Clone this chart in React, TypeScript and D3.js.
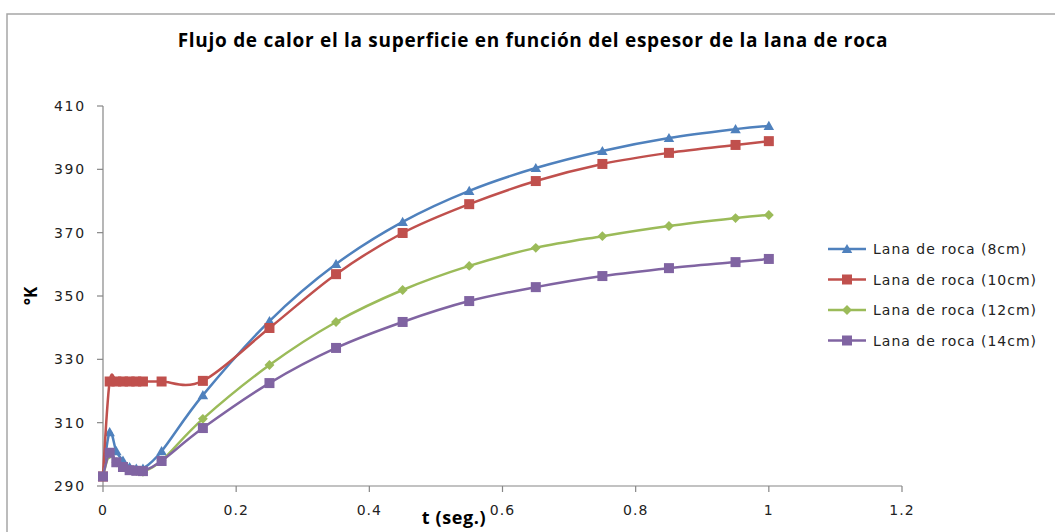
import React from "react";
import * as d3 from "d3";

// time samples (s) shared by all series
const tValues = [0, 0.01, 0.02, 0.03, 0.04, 0.05, 0.06, 0.088, 0.15, 0.25, 0.35, 0.45, 0.55, 0.65, 0.75, 0.85, 0.95, 1.0];

// surface temperature (°K) per wool thickness
const lana8cm = [293, 307, 301, 298, 296, 295.5, 295.5, 301, 318.7, 342.1, 360.1, 373.4, 383.2, 390.4, 395.8, 399.9, 402.7, 403.7];
const lana10cm = [293, 323, 323, 323, 323, 323, 323, 323, 323.2, 339.9, 356.9, 369.9, 379.0, 386.3, 391.7, 395.2, 397.7, 398.9];
const lana12cm = [293, 300, 297.5, 296, 295, 294.7, 294.5, 298, 311.2, 328.2, 341.8, 351.9, 359.5, 365.2, 368.9, 372.1, 374.6, 375.6];
const lana14cm = [293, 300.5, 297.5, 296, 295, 294.8, 294.7, 297.9, 308.3, 322.5, 333.6, 341.8, 348.4, 352.8, 356.3, 358.8, 360.7, 361.7];

const seriesNames = ["Lana de roca (8cm)", "Lana de roca (10cm)", "Lana de roca (12cm)", "Lana de roca (14cm)"];
const seriesColors = ["#4F81BD", "#C0504D", "#9BBB59", "#8064A2"];
const seriesMarkers = ["triangle", "square", "diamond", "square"];
const seriesValues = [lana8cm, lana10cm, lana12cm, lana14cm];

const xTicks = [0, 0.2, 0.4, 0.6, 0.8, 1, 1.2];
const yTicks = [290, 310, 330, 350, 370, 390, 410];

const titleText = "Flujo de calor el la superficie en función del espesor de la lana de roca";
const xAxisTitle = "t (seg.)";
const yAxisTitle = "°K";

const W = 1055;
const H = 532;

const x = d3.scaleLinear().domain([0, 1.2]).range([103, 902]);
const y = d3.scaleLinear().domain([290, 410]).range([486, 106]);

function Marker({ kind, cx, cy, color }: { kind: string; cx: number; cy: number; color: string }) {
  if (kind === "triangle") {
    const s = d3.symbol().type(d3.symbolTriangle).size(48)();
    return <path d={s || ""} transform={`translate(${cx},${cy + 1})`} fill={color} />;
  }
  if (kind === "diamond") {
    return (
      <rect x={-3.5} y={-3.5} width={7} height={7} fill={color} transform={`translate(${cx},${cy}) rotate(45)`} />
    );
  }
  return <rect x={cx - 5} y={cy - 5} width={10} height={10} fill={color} />;
}

export default function App() {
  const line = d3
    .line<number>()
    .x((_, i) => x(tValues[i]))
    .y((v) => y(v))
    .curve(d3.curveCardinal.tension(0));

  const axisColor = "#868686";
  const tickFont = "DejaVu Sans, Verdana, sans-serif";

  return (
    <svg
      width={W}
      height={H}
      style={{ position: "absolute", left: 0, top: 0, background: "#fff" }}
      xmlns="http://www.w3.org/2000/svg"
    >
      {/* chart frame */}
      <rect x={7} y={14} width={W + 20} height={H + 20} fill="#fff" stroke="#a6a6a6" strokeWidth={1.5} />

      <text
        x={533}
        y={47}
        textAnchor="middle"
        fontFamily="Open Sans, sans-serif"
        fontWeight={700}
        fontSize={19}
        letterSpacing={0.7}
        fill="#000"
      >
        {titleText}
      </text>

      {/* axes */}
      <line x1={x(0)} x2={x(1.2)} y1={y(290)} y2={y(290)} stroke={axisColor} strokeWidth={1.2} />
      <line x1={x(0)} x2={x(0)} y1={y(290)} y2={y(410)} stroke={axisColor} strokeWidth={1.2} />
      {xTicks.map((t) => (
        <g key={`xt${t}`}>
          <line x1={x(t)} x2={x(t)} y1={y(290)} y2={y(290) + 6} stroke={axisColor} strokeWidth={1.2} />
          <text
            x={x(t)}
            y={y(290) + 29}
            textAnchor="middle"
            fontFamily={tickFont}
            fontSize={14}
            letterSpacing={1}
            fill="#222"
          >
            {String(t)}
          </text>
        </g>
      ))}
      {yTicks.map((v) => (
        <g key={`yt${v}`}>
          <line x1={x(0) - 6} x2={x(0)} y1={y(v)} y2={y(v)} stroke={axisColor} strokeWidth={1.2} />
          <text
            x={x(0) - 17}
            y={y(v) + 5}
            textAnchor="end"
            fontFamily={tickFont}
            fontSize={14}
            letterSpacing={1.8}
            fill="#222"
          >
            {v}
          </text>
        </g>
      ))}

      <text
        x={454}
        y={524}
        textAnchor="middle"
        fontFamily="Open Sans, sans-serif"
        fontWeight={700}
        fontSize={18}
        letterSpacing={0.6}
        fill="#000"
      >
        {xAxisTitle}
      </text>
      <text
        transform={`translate(37,${y(350)}) rotate(-90)`}
        textAnchor="middle"
        fontFamily="Open Sans, sans-serif"
        fontWeight={700}
        fontSize={17}
        fill="#000"
      >
        {yAxisTitle}
      </text>

      {/* series */}
      {seriesValues.map((vals, si) => (
        <g key={`s${si}`}>
          <path d={line(vals) || ""} fill="none" stroke={seriesColors[si]} strokeWidth={2.5} strokeLinejoin="round" />
          {vals.map((v, i) => (
            <Marker key={i} kind={seriesMarkers[si]} cx={x(tValues[i])} cy={y(v)} color={seriesColors[si]} />
          ))}
        </g>
      ))}

      {/* legend */}
      {seriesNames.map((name, i) => {
        const ly = 249 + i * 30.5;
        return (
          <g key={`lg${i}`}>
            <line x1={828} x2={866} y1={ly} y2={ly} stroke={seriesColors[i]} strokeWidth={2.5} />
            <Marker kind={seriesMarkers[i]} cx={847} cy={ly} color={seriesColors[i]} />
            <text x={873} y={ly + 5} fontFamily={tickFont} fontSize={14} letterSpacing={1} fill="#222">
              {name}
            </text>
          </g>
        );
      })}
    </svg>
  );
}
